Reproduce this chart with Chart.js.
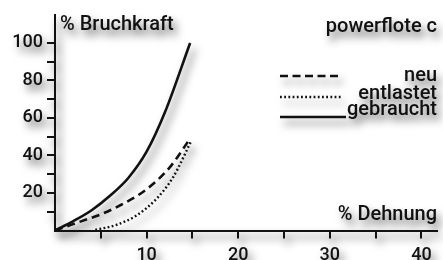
<!DOCTYPE html>
<html>
<head>
<meta charset="utf-8">
<script src="https://cdn.jsdelivr.net/npm/chart.js@4.4.1/dist/chart.umd.min.js"></script>
<style>
  html, body { margin: 0; padding: 0; background: #fff; }
  #wrap { width: 443px; height: 260px; }
  /* grey drop shadow on everything, like the printed original */
  #chart { filter: drop-shadow(4px 6px 4px rgba(0, 0, 0, 0.6)); }
</style>
</head>
<body>
<div id="wrap"><canvas id="chart" width="443" height="260"></canvas></div>
<script>
// Dehnung (%) vs. Bruchkraft (%)
const strainNeu = [0, 2.5, 5, 7.5, 10, 12.5, 14.75]
const forceNeu = [0, 4.3, 8.6, 14.4, 22, 33.5, 49]

const strainEntlastet = [4.4, 6.7, 8.9, 11.1, 12.9, 14.9]
const forceEntlastet = [0.3, 3, 8, 17, 28.5, 48]

const strainGebraucht = [0, 2, 4, 6, 8, 10, 12, 14.75]
const forceGebraucht = [0, 5, 10.8, 18.5, 28, 42, 63, 100]

const xTicks = [5, 10, 15, 20, 25, 30, 35, 40]
const xLabels = [10, 20, 30, 40]
const yTicks = [10, 20, 30, 40, 50, 60, 70, 80, 90, 100]
const yLabels = [20, 40, 60, 80, 100]

const seriesNames = ['neu', 'entlastet', 'gebraucht']

const ink = '#111'
const fontFamily = 'Roboto, Lato, sans-serif'

const toPoints = (xs, ys) => xs.map((x, i) => ({ x: x, y: ys[i] }))

// titles and the legend, placed like in the original
const textPlugin = {
    id: 'texts',
    afterDraw(chart) {
        const c = chart.ctx
        c.save()
        c.fillStyle = ink
        c.font = '500 20px ' + fontFamily
        c.textBaseline = 'alphabetic'

        c.textAlign = 'left'
        c.fillText('% Bruchkraft', 60, 30)

        c.textAlign = 'right'
        c.fillText('powerflote c', 437, 32)
        c.fillText('% Dehnung', 437, 220)

        // legend: sample line on the left, name right-aligned
        const rows = [
            { lineY: 76, textY: 81, x2: 342 },
            { lineY: 97, textY: 99, x2: 342 },
            { lineY: 117, textY: 115, x2: 346 }
        ]
        chart.data.datasets.forEach((ds, i) => {
            const r = rows[i]
            c.save()
            c.strokeStyle = ds.borderColor
            c.lineWidth = ds.borderWidth
            c.setLineDash(ds.legendDash || [])
            c.beginPath()
            c.moveTo(280, r.lineY)
            c.lineTo(r.x2, r.lineY)
            c.stroke()
            c.restore()
            c.fillText(ds.label, 437, r.textY)
        })
        c.restore()
    }
}

const axisFont = { family: fontFamily, size: 18, weight: '500' }

new Chart(document.getElementById('chart'), {
    type: 'line',
    data: {
        datasets: [
            {
                label: seriesNames[0],
                data: toPoints(strainNeu, forceNeu),
                borderColor: ink,
                borderWidth: 2.6,
                borderDash: [8, 5],
                legendDash: [8, 4.5],
                pointRadius: 0,
                cubicInterpolationMode: 'monotone'
            },
            {
                label: seriesNames[1],
                data: toPoints(strainEntlastet, forceEntlastet),
                borderColor: ink,
                borderWidth: 2.4,
                borderDash: [1.8, 2.4],
                legendDash: [1.8, 2.4],
                pointRadius: 0,
                cubicInterpolationMode: 'monotone'
            },
            {
                label: seriesNames[2],
                data: toPoints(strainGebraucht, forceGebraucht),
                borderColor: ink,
                borderWidth: 2.6,
                pointRadius: 0,
                cubicInterpolationMode: 'monotone'
            }
        ]
    },
    options: {
        responsive: false,
        animation: false,
        events: [],
        layout: { padding: { top: 14, right: 6, left: 0, bottom: 0 } },
        plugins: {
            legend: { display: false },
            tooltip: { enabled: false }
        },
        scales: {
            x: {
                type: 'linear',
                min: 0,
                max: 41.7,
                border: { display: true, color: ink, width: 2 },
                grid: { drawOnChartArea: false, drawTicks: true, tickLength: 8, color: ink, lineWidth: 2 },
                ticks: {
                    color: ink,
                    font: axisFont,
                    padding: 6,
                    maxRotation: 0,
                    autoSkip: false,
                    callback: v => xLabels.includes(v) ? String(v) : ''
                },
                afterBuildTicks: s => { s.ticks = xTicks.map(v => ({ value: v })) },
                afterFit: s => { s.height = 29.5 }
            },
            y: {
                type: 'linear',
                min: 0,
                max: 115,
                border: { display: true, color: ink, width: 2 },
                grid: { drawOnChartArea: false, drawTicks: true, tickLength: 8, color: ink, lineWidth: 2 },
                ticks: {
                    color: ink,
                    font: axisFont,
                    padding: 4,
                    autoSkip: false,
                    callback: v => yLabels.includes(v) ? String(v) : ''
                },
                afterBuildTicks: s => { s.ticks = yTicks.map(v => ({ value: v })) },
                afterFit: s => { s.width = 55 }
            }
        }
    },
    plugins: [textPlugin]
})
</script>
</body>
</html>
